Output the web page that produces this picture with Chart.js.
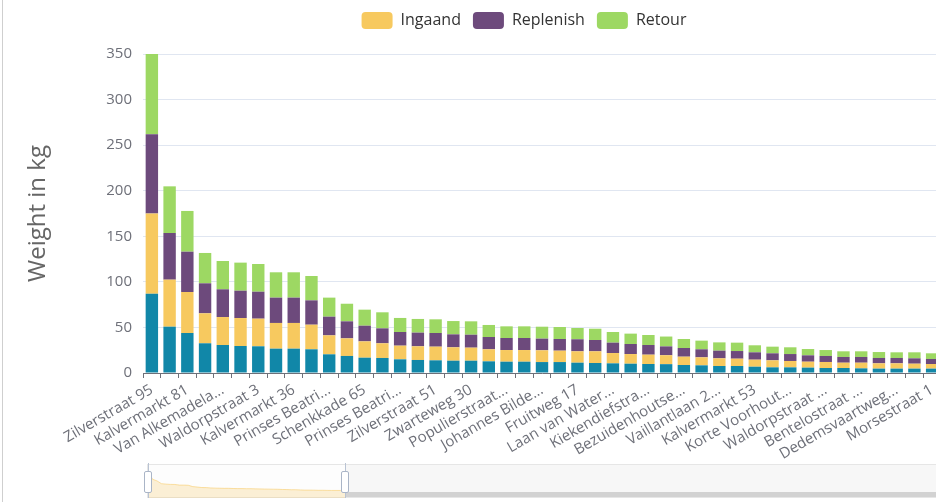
<!DOCTYPE html>
<html>
<head>
<meta charset="utf-8">
<script src="https://cdn.jsdelivr.net/npm/chart.js@4.4.1/dist/chart.umd.min.js"></script>
<style>
  html, body { margin: 0; padding: 0; background: #fff; overflow: hidden; }
  body { width: 936px; height: 502px; position: relative; }
  #wrap { position: absolute; left: 0; top: 0; width: 1048px; height: 502px; }
  #edge { position: absolute; left: 2px; top: 0; width: 1px; height: 502px; background: #cfcfcf; }
  #slider { position: absolute; left: 147px; top: 464px; width: 796px; height: 34px; background: #f7f7f7; border: 1px solid #e6e6e6; box-sizing: border-box; }
  #picked { position: absolute; left: 148px; top: 465px; width: 197px; height: 32px; background: #fdfdfd; }
  #rest { position: absolute; left: 345px; top: 492px; width: 598px; height: 5px; background: #d2d2d2; }
  #shadowWrap { position: absolute; left: 148px; top: 464px; width: 197px; height: 34px; }
  .hline { position: absolute; top: 463px; width: 1px; height: 35px; background: #b9c3d3; }
  .handle { position: absolute; top: 471px; width: 6px; height: 20px; background: #fff; border: 1px solid #aab5c7; border-radius: 2px; }
</style>
</head>
<body>
<div id="wrap"><canvas id="myChart"></canvas></div>
<div id="edge"></div>
<div id="slider"></div>
<div id="picked"></div>
<div id="rest"></div>
<div id="shadowWrap"><canvas id="shadow"></canvas></div>
<div class="hline" style="left:148px"></div>
<div class="hline" style="left:345px"></div>
<div class="handle" style="left:144px"></div>
<div class="handle" style="left:341px"></div>
<script>
// addresses; odd positions are hidden by the axis label interval, so their names are not readable
const addresses = [
  'Zilverstraat 95', '', 'Kalvermarkt 81', '', 'Van Alkemadela...', '',
  'Waldorpstraat 3', '', 'Kalvermarkt 36', '', 'Prinses Beatri...', '',
  'Schenkkade 65', '', 'Prinses Beatri...', '', 'Zilverstraat 51', '',
  'Zwarteweg 30', '', 'Populierstraat...', '', 'Johannes Bilde...', '',
  'Fruitweg 17', '', 'Laan van Water...', '', 'Kiekendiefstra...', '',
  'Bezuidenhoutse...', '', 'Vaillantlaan 2...', '', 'Kalvermarkt 53', '',
  'Korte Voorhout...', '', 'Waldorpstraat ...', '', 'Bentelostraat ...', '',
  'Dedemsvaartweg...', '', 'Morsestraat 1'
];

// bottom (teal) series, not in the legend
const baseKg = [
  87, 50.8, 43.9, 32.6, 30.7, 29.6, 29.3, 26.7, 26.7, 26.0,
  20.5, 18.7, 16.8, 16.5, 15.0, 14.3, 13.9, 13.5, 13.5, 12.8,
  12.4, 12.4, 12.0, 12.0, 11.3, 11.0, 10.6, 10.2, 9.9, 9.7,
  8.8, 8.4, 7.7, 7.7, 6.9, 6.2, 6.2, 5.9, 5.5, 5.5,
  5.1, 4.8, 4.8, 4.8, 4.8
];
const ingaand = [
  88, 51.6, 45.0, 32.9, 30.7, 30.7, 30.3, 28.2, 28.2, 27.0,
  20.8, 19.3, 17.9, 16.1, 15.0, 15.0, 15.0, 14.7, 14.3, 13.2,
  12.8, 12.8, 12.9, 12.5, 12.5, 12.8, 11.3, 10.6, 10.2, 9.8,
  9.1, 8.8, 8.4, 8.0, 7.7, 7.7, 7.0, 6.5, 6.6, 5.8,
  6.2, 5.8, 5.8, 5.4, 5.1
];
const replenish = [
  87, 51.2, 44.2, 32.9, 30.4, 30.0, 29.6, 27.8, 27.8, 26.7,
  20.5, 18.7, 17.2, 16.4, 15.0, 15.0, 15.0, 14.2, 14.2, 13.5,
  13.2, 13.2, 12.8, 12.8, 13.2, 12.4, 11.4, 11.0, 10.6, 9.7,
  9.5, 8.8, 8.4, 8.4, 8.1, 7.7, 7.6, 7.0, 6.6, 6.3,
  6.3, 5.9, 5.9, 5.9, 5.5
];
const retour = [
  88, 51.2, 44.7, 33.3, 31.1, 30.8, 30.4, 27.8, 27.8, 26.7,
  20.9, 19.3, 17.6, 17.6, 15.4, 15.0, 15.0, 14.6, 14.7, 13.2,
  12.8, 12.8, 13.1, 13.2, 12.4, 12.4, 11.7, 11.4, 11.0, 10.8,
  9.9, 9.5, 9.1, 9.2, 7.7, 7.3, 7.4, 6.9, 6.5, 6.2,
  6.2, 6.5, 6.2, 6.6, 6.2
];
const yTicks = [0, 50, 100, 150, 200, 250, 300, 350];

const axisGrey = '#6E7079';
Chart.defaults.font.family = '"Open Sans", "Noto Sans", sans-serif';

const ctx = document.getElementById('myChart');

const myChart = new Chart(ctx, {
    type: 'bar',
    data: {
        labels: addresses,
        datasets: [
            { label: 'Basis', data: baseKg, backgroundColor: '#1187a8' },
            { label: 'Ingaand', data: ingaand, backgroundColor: '#f7c95f' },
            { label: 'Replenish', data: replenish, backgroundColor: '#6d4a7c' },
            { label: 'Retour', data: retour, backgroundColor: '#9dd863' }
        ]
    },
    options: {
        responsive: true,
        maintainAspectRatio: false,
        animation: false,
        layout: { padding: { left: 0, right: 107, top: 0, bottom: 0 } },
        datasets: { bar: { barPercentage: 0.7, categoryPercentage: 1, borderWidth: 0 } },
        plugins: {
            tooltip: { enabled: false },
            legend: {
                position: 'top',
                labels: {
                    filter: (item) => item.datasetIndex > 0,
                    boxWidth: 31,
                    boxHeight: 17,
                    useBorderRadius: true,
                    borderRadius: 4,
                    padding: 12,
                    color: '#333',
                    font: { size: 16 }
                }
            }
        },
        scales: {
            x: {
                stacked: true,
                offset: true,
                afterFit: (scale) => { scale.height = 129; },
                grid: { offset: true, drawOnChartArea: false, drawTicks: true, tickLength: 5, color: axisGrey },
                border: { display: true, color: axisGrey, width: 1 },
                ticks: {
                    autoSkip: false,
                    maxRotation: 30,
                    minRotation: 30,
                    padding: 3,
                    color: axisGrey,
                    font: { size: 15 },
                    callback: function (value, index) {
                        return index % 2 === 0 ? addresses[index] : '';
                    }
                }
            },
            y: {
                stacked: true,
                min: yTicks[0],
                max: yTicks[yTicks.length - 1],
                afterFit: (scale) => { scale.width = 143; },
                afterBuildTicks: (scale) => { scale.ticks = yTicks.map(v => ({ value: v })); },
                grid: { color: '#E0E6F1', drawTicks: false },
                border: { display: false },
                ticks: { padding: 11, color: axisGrey, font: { size: 15 } },
                title: {
                    display: true,
                    text: 'Weight in kg',
                    color: '#666',
                    font: { size: 24 },
                    padding: { top: 24, bottom: 0 }
                }
            }
        }
    },
    plugins: [{
        id: 'legendBox',
        beforeInit(chart) {
            const fit = chart.legend.fit;
            chart.legend.fit = function () {
                fit.bind(chart.legend)();
                this.height = 54;
            };
        },
        // legend is centred on the whole chart width, not on the space left of the right padding
        afterLayout(chart) {
            const lg = chart.legend;
            lg.left = 0;
            lg.right = chart.width;
            lg.width = chart.width;
        }
    }]
});

// data shadow in the zoom slider: first series, extent padded by 30% like the slider does
const shadowMax = Math.max(...baseKg);
const shadowChart = new Chart(document.getElementById('shadow'), {
    type: 'line',
    data: {
        labels: addresses,
        datasets: [{
            data: baseKg,
            fill: 'start',
            backgroundColor: 'rgba(247,201,95,0.25)',
            borderColor: 'rgba(247,201,95,0.55)',
            borderWidth: 1,
            pointRadius: 0,
            tension: 0
        }]
    },
    options: {
        responsive: true,
        maintainAspectRatio: false,
        animation: false,
        plugins: { legend: { display: false }, tooltip: { enabled: false } },
        scales: {
            x: { display: false, offset: false },
            y: { display: false, min: -shadowMax * 0.3, max: shadowMax * 1.3 }
        }
    }
});
</script>
</body>
</html>
